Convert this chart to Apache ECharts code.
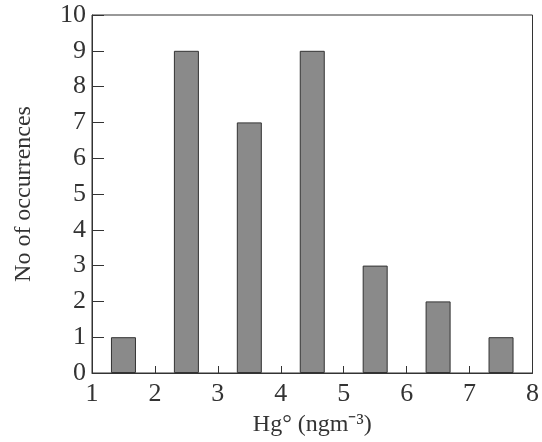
<!DOCTYPE html>
<html>
<head>
<meta charset="utf-8">
<script src="https://cdn.jsdelivr.net/npm/echarts@6/dist/echarts.min.js"></script>
<style>
  html, body { margin: 0; padding: 0; background: #fff; }
  #main { width: 542px; height: 442px; }
</style>
</head>
<body>
<div id="main"></div>
<script>
// bin centres (Hg concentration) and counts
var binCentres = [1.5, 2.5, 3.5, 4.5, 5.5, 6.5, 7.5];
var counts = [1, 9, 7, 9, 3, 2, 1];

var data = binCentres.map(function (x, i) { return [x, counts[i]]; });

var chart = echarts.init(document.getElementById("main"));
var font = "Liberation Serif";

var option = {
  backgroundColor: "#fff",
  grid: {
    left: 92,
    right: 5,
    top: 15,
    bottom: 68,
    show: true,
    borderColor: "#333",
    borderWidth: 1,
  },
  xAxis: {
    type: "value",
    min: 1,
    max: 8,
    interval: 1,
    name: "Hg° (ngm⁻³)",
    nameLocation: "middle",
    nameGap: 40,
    nameTextStyle: { fontFamily: font, fontSize: 24, color: "#333" },
    axisLine: { show: true, lineStyle: { color: "#333", width: 1 } },
    axisTick: { show: true, inside: true, length: 7, lineStyle: { color: "#333" } },
    axisLabel: { fontFamily: font, fontSize: 26, color: "#333", margin: 8 },
    splitLine: { show: false },
  },
  yAxis: {
    type: "value",
    min: 0,
    max: 10,
    interval: 1,
    name: "No of occurrences",
    nameLocation: "middle",
    nameGap: 56,
    nameTextStyle: { fontFamily: font, fontSize: 24, color: "#333" },
    axisLine: { show: true, lineStyle: { color: "#333", width: 1 } },
    axisTick: { show: true, inside: true, length: 12, lineStyle: { color: "#333" } },
    axisLabel: { fontFamily: font, fontSize: 26, color: "#333", margin: 6 },
    splitLine: { show: false },
  },
  series: [
    {
      type: "bar",
      data: data,
      barWidth: 25,
      itemStyle: {
        color: "#8a8a8a",
        borderColor: "#333",
        borderWidth: 1,
      },
    },
  ],
};

chart.setOption(option);
</script>
</body>
</html>
